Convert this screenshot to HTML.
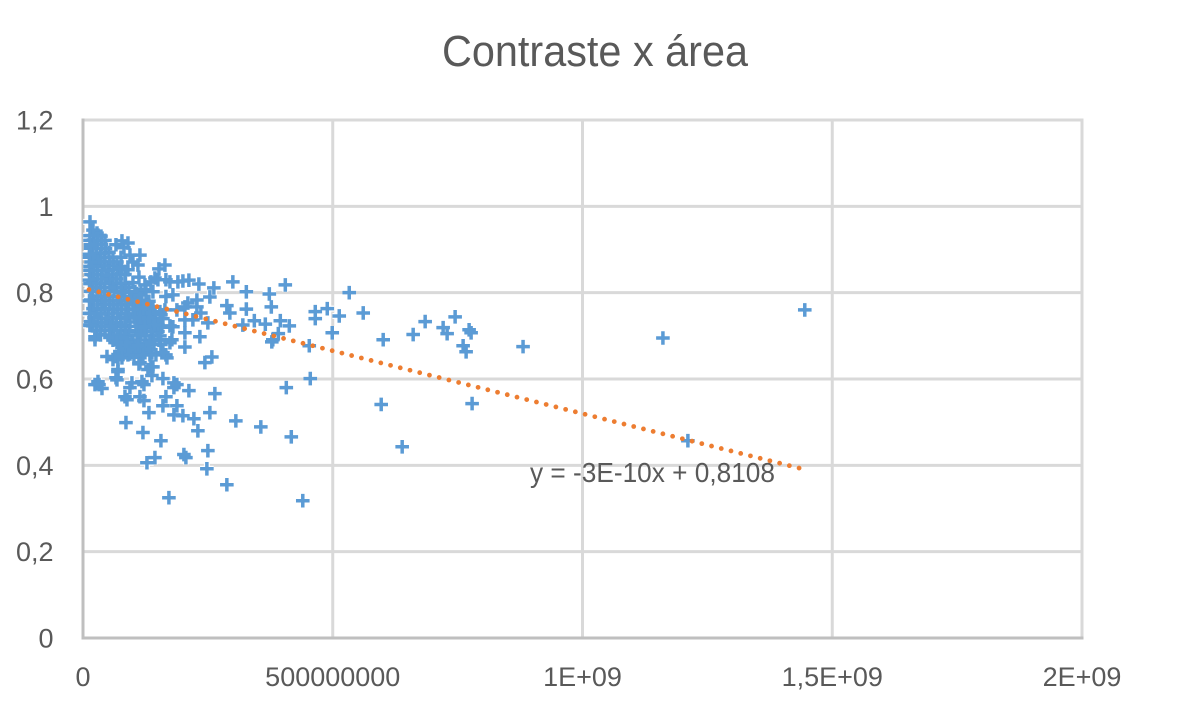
<!DOCTYPE html>
<html lang="pt">
<head>
<meta charset="utf-8">
<title>Contraste x área</title>
<style>
html,body{margin:0;padding:0;background:#fff;}
body{width:1194px;height:714px;overflow:hidden;}
svg{display:block;font-family:"Liberation Sans",sans-serif;}
</style>
</head>
<body>
<svg id="chart" width="1194" height="714" viewBox="0 0 1194 714" xmlns="http://www.w3.org/2000/svg">
<rect width="1194" height="714" fill="#fff"/>
<text x="595" y="66" text-anchor="middle" font-size="44" fill="#595959" textLength="306" lengthAdjust="spacingAndGlyphs">Contraste x área</text>
<g id="grid"></g>
<g id="axes"></g>
<g id="points"></g>
<path id="trend" fill="none" stroke="#ed7d31" stroke-width="4.8" stroke-linecap="round" stroke-dasharray="0 10.03"></path>
<text x="530" y="482" font-size="28" fill="#595959" textLength="245" lengthAdjust="spacingAndGlyphs">y = -3E-10x + 0,8108</text>
<g id="ticks"></g>
</svg>
<script>
const xTickValues = [0, 500, 1000, 1500, 2000];
const xTickLabels = ["0", "500000000", "1E+09", "1,5E+09", "2E+09"];
const yTickValues = [0, 0.2, 0.4, 0.6, 0.8, 1, 1.2];
const yTickLabels = ["0", "0,2", "0,4", "0,6", "0,8", "1", "1,2"];
const trendSlopePerMillion = -0.000291;
const trendIntercept = 0.8108;
const trendStartEnd = [12, 1436];
const areaMillions = [
1445,1161,1211,881,779,777,773,761,767,745,
721,729,685,661,639,601,597,561,533,513,
499,489,465,465,453,455,440,417,407,413,
405,395,391,380,378,377,373,365,343,327,
327,320,300,306,288,356,262,254,288,294,
248,250,254,264,258,244,236,228,228,232,
212,200,210,204,188,250,204,220,174,204,
234,204,174,178,212,222,230,200,188,182,
188,182,182,160,166,160,202,206,172,144,
128,156,132,120,86,84,88,114,122,94,
98,118,122,68,32,24,38,138,130,140,
70,112,48,64,70,60,78,90,120,134,
160,168,110,134,68,88,24,74,134,154,
180,166,146,114,136,70,66,30,76,86,
24,14,34,54,56,76,104,124,144,116,
134,106,96,124,156,180,166,190,150,166,
136,126,114,140,96,100,120,140,154,86,
114,134,150,78,90,66,82,114,110,164,
152,112,144,174,94,100,90,74,124,14,
14,15,13,16,14,13,15,13,14,15,
14,15,13,14,16,14,15,13,14,20,
21,19,20,22,21,20,19,21,20,22,
20,28,29,27,28,30,29,27,28,29,
28,30,27,36,37,35,36,38,37,35,
36,38,36,37,35,44,45,43,44,46,
44,43,45,44,46,44,52,53,51,52,
54,52,53,51,52,53,60,61,59,60,
62,60,61,59,60,61,68,69,67,68,
70,68,69,67,68,76,77,75,76,78,
76,77,75,76,84,85,83,84,86,84,
85,83,92,93,91,92,94,92,100,104,
102,108,112,106,110,118,122,116,128,132,
98,104,110,88,94,102,108,126,116,130,
112,118,124,130,136,142,148,154,160,126,
132,138,144,150,156,116,122,128,134,140,
146,152,158,164,108,114,120,126,132,138,
60,70,80,90,100,110,72,82,92,102
];
const contrastValues = [
.760,.695,.457,.675,.543,.707,.714,.677,.663,.744,
.719,.705,.733,.703,.443,.691,.541,.753,.800,.746,
.707,.763,.756,.740,.677,.601,.318,.466,.580,.723,
.818,.735,.705,.691,.686,.767,.797,.727,.735,.802,
.762,.725,.825,.503,.355,.489,.811,.790,.770,.753,
.392,.434,.522,.566,.651,.638,.753,.767,.783,.820,
.829,.827,.776,.767,.760,.730,.737,.737,.723,.707,
.698,.674,.684,.691,.573,.508,.480,.515,.538,.517,
.587,.591,.580,.601,.559,.538,.425,.418,.325,.418,
.406,.457,.522,.476,.499,.559,.552,.559,.550,.580,
.591,.594,.587,.598,.587,.587,.578,.608,.622,.628,
.617,.635,.652,.652,.645,.645,.649,.656,.656,.656,
.661,.649,.679,.684,.684,.686,.691,.663,.668,.691,
.721,.656,.656,.638,.628,.622,.603,.594,.696,.691,
.698,.725,.703,.696,.721,.725,.742,.721,.725,.703,
.686,.674,.668,.661,.749,.795,.791,.825,.830,.830,
.825,.807,.795,.802,.783,.761,.765,.767,.756,.742,
.744,.744,.725,.920,.915,.911,.904,.887,.864,.864,
.855,.836,.834,.825,.887,.871,.853,.857,.818,.964,
.932,.911,.889,.871,.852,.829,.803,.781,.752,.733,
.921,.903,.882,.861,.842,.821,.783,.752,.724,.945,
.922,.903,.884,.862,.841,.822,.803,.781,.763,.742,
.723,.938,.921,.902,.881,.863,.842,.821,.802,.782,
.761,.741,.712,.931,.912,.891,.872,.851,.832,.812,
.791,.772,.752,.731,.702,.921,.902,.881,.862,.841,
.822,.803,.781,.762,.741,.722,.893,.871,.852,.832,
.812,.791,.772,.751,.731,.712,.882,.862,.841,.822,
.803,.781,.762,.742,.723,.702,.871,.853,.832,.812,
.791,.772,.753,.731,.712,.882,.861,.842,.822,.803,
.781,.762,.741,.722,.842,.821,.801,.782,.762,.741,
.722,.702,.812,.791,.772,.751,.732,.712,.823,.802,
.782,.762,.742,.722,.702,.782,.762,.742,.752,.732,
.682,.668,.702,.672,.658,.778,.798,.778,.802,.768,
.740,.720,.700,.730,.710,.690,.720,.700,.740,.680,
.670,.730,.750,.710,.680,.770,.750,.720,.760,.700,
.730,.690,.720,.760,.710,.690,.670,.750,.780,.660,
.690,.700,.690,.700,.690,.670,.680,.670,.680,.650
];

const SVG_NS = "http://www.w3.org/2000/svg";
const xScale = v => 83 + v * (999 / 2000);
const yScale = v => 638 - v * (518 / 1.2);

function line(parent, x1, y1, x2, y2, color) {
  const el = document.createElementNS(SVG_NS, "line");
  el.setAttribute("x1", x1);
  el.setAttribute("y1", y1);
  el.setAttribute("x2", x2);
  el.setAttribute("y2", y2);
  el.setAttribute("stroke", color);
  el.setAttribute("stroke-width", 3);
  parent.appendChild(el);
  return el;
}
function label(parent, x, y, anchor, content) {
  const el = document.createElementNS(SVG_NS, "text");
  el.setAttribute("x", x);
  el.setAttribute("y", y);
  el.setAttribute("text-anchor", anchor);
  el.setAttribute("font-size", 27);
  el.setAttribute("fill", "#595959");
  el.textContent = content;
  parent.appendChild(el);
  return el;
}

const grid = document.getElementById("grid");
const axes = document.getElementById("axes");
const ticks = document.getElementById("ticks");

yTickValues.forEach((v, i) => {
  if (v !== 0) {
    const g = line(grid, 83, yScale(v), 1083.5, yScale(v), "#d9d9d9");
    
    
  }
  const t = label(ticks, 53.5, yScale(v) + 9.5, "end", yTickLabels[i]);
  
  
});
xTickValues.forEach((v, i) => {
  if (v !== 0) {
    const g = line(grid, xScale(v), 118.5, xScale(v), 638, "#d9d9d9");
    
    
  }
  const t = label(ticks, xScale(v), 686, "middle", xTickLabels[i]);
  
  
});

const yAxisLine = line(axes, xScale(0), yScale(1.2) - 1.5, xScale(0), yScale(0) + 1.5, "#bfbfbf");


const xAxisLine = line(axes, xScale(0), yScale(0), xScale(2000) + 1.5, yScale(0), "#bfbfbf");



const pointsLayer = document.getElementById("points");
const count = Math.min(areaMillions.length, contrastValues.length);
function plus(px, py) {
  return "M" + (px - 6.8) + " " + py + "H" + (px + 6.8) + "M" + px + " " + (py - 6.8) + "V" + (py + 6.8);
}
for (let i = count - 1; i >= 0; i--) {
  const halo = document.createElementNS(SVG_NS, "path");
  
  
  halo.setAttribute("d", plus(xScale(areaMillions[i]), yScale(contrastValues[i])));
  halo.setAttribute("stroke", "#ffffff");
  halo.setAttribute("stroke-width", 6);
  halo.setAttribute("fill", "none");
  pointsLayer.appendChild(halo);
}
for (let i = count - 1; i >= 0; i--) {
  const mark = document.createElementNS(SVG_NS, "path");
  
  
  mark.setAttribute("d", plus(xScale(areaMillions[i]), yScale(contrastValues[i])));
  mark.setAttribute("stroke", "#5b9bd5");
  mark.setAttribute("stroke-width", 3.5);
  mark.setAttribute("fill", "none");
  pointsLayer.appendChild(mark);
}

const trendY = x => trendIntercept + trendSlopePerMillion * x;
document.getElementById("trend").setAttribute("d",
  "M" + xScale(trendStartEnd[0]) + " " + yScale(trendY(trendStartEnd[0])) +
  "L" + xScale(trendStartEnd[1]) + " " + yScale(trendY(trendStartEnd[1])));
</script>
</body>
</html>
